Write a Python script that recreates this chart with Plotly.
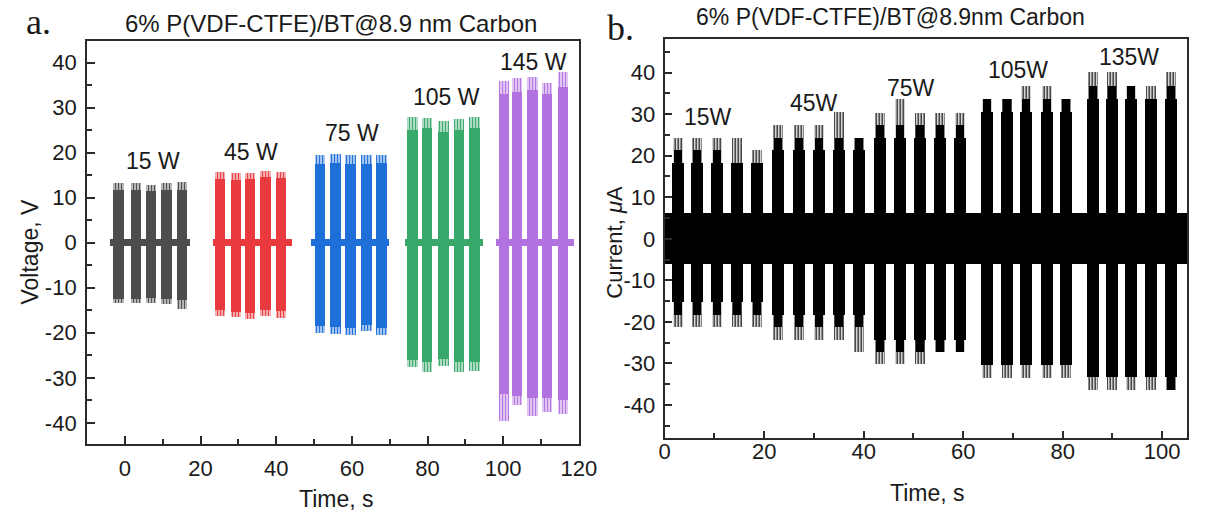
import plotly.graph_objects as go

# ---------------- Panel a: voltage bursts (V) ----------------
a_labels = ["15 W", "45 W", "75 W", "105 W", "145 W"]
a_label_x = [7.3, 33.3, 60.0, 85.0, 108.0]
a_label_y = [18.1, 20.2, 24.4, 32.4, 40.2]
a_colors = ["#4d4d4d", "#e93a3f", "#1f6fd9", "#38a86b", "#b272e0"]

a_t_15 = [-1.7, 3.0, 6.9, 11.0, 15.1]
a_t_45 = [25.1, 29.4, 33.1, 37.2, 41.3]
a_t_75 = [51.6, 55.7, 59.6, 63.8, 67.8]
a_t_105 = [76.0, 79.9, 84.2, 88.3, 92.5]
a_t_145 = [100.2, 103.7, 107.8, 111.6, 115.8]

a_top_15 = [11.8, 11.8, 11.5, 11.8, 11.8]
a_top_45 = [14.2, 14.0, 14.2, 14.5, 14.3]
a_top_75 = [17.5, 17.8, 17.5, 17.5, 17.6]
a_top_105 = [25.0, 25.5, 24.5, 25.0, 25.5]
a_top_145 = [33.0, 33.5, 34.0, 33.0, 34.5]

a_pk_top_15 = [13.3, 13.3, 12.8, 13.2, 13.5]
a_pk_top_45 = [15.6, 15.5, 15.5, 16.0, 15.8]
a_pk_top_75 = [19.5, 19.8, 19.5, 19.5, 19.5]
a_pk_top_105 = [28.0, 27.8, 27.0, 27.5, 28.0]
a_pk_top_145 = [36.0, 36.5, 36.8, 35.5, 38.0]

a_bot_15 = [-12.5, -12.5, -12.3, -12.5, -12.8]
a_bot_45 = [-15.0, -15.3, -15.5, -15.0, -15.2]
a_bot_75 = [-18.5, -18.8, -19.0, -18.3, -19.0]
a_bot_105 = [-26.0, -26.5, -25.8, -26.5, -26.5]
a_bot_145 = [-33.5, -34.0, -34.5, -34.5, -35.0]

a_pk_bot_15 = [-13.3, -13.3, -13.3, -13.5, -14.8]
a_pk_bot_45 = [-16.3, -16.5, -17.0, -16.3, -16.8]
a_pk_bot_75 = [-20.0, -20.3, -20.5, -19.5, -20.5]
a_pk_bot_105 = [-27.5, -28.8, -27.3, -28.8, -28.5]
a_pk_bot_145 = [-39.5, -36.0, -38.5, -37.5, -38.0]

a_base_start = [-3.9, 23.3, 49.2, 74.0, 98.1]
a_base_end = [17.3, 44.3, 69.7, 94.6, 118.6]
a_noise = 0.75

# ---------------- Panel b: current bursts (uA) ----------------
b_labels = ["15W", "45W", "75W", "105W", "135W"]
b_label_x = [8.8, 30.0, 49.5, 71.0, 93.4]
b_label_y = [29.4, 32.6, 36.2, 40.6, 43.8]

b_t_15 = [2.55, 6.5, 10.4, 14.5, 18.4]
b_t_45 = [22.8, 26.9, 30.9, 35.0, 38.9]
b_t_75 = [43.2, 47.3, 51.2, 55.3, 59.2]
b_t_105 = [64.8, 68.7, 72.6, 76.7, 80.6]
b_t_135 = [86.0, 89.9, 93.7, 97.7, 101.7]

b_hi_wide_15 = [18.2, 18.2, 18.2, 18.2, 18.2]
b_hi_narrow_15 = [21.2, 21.2, 21.2, 18.2, 18.2]
b_hi_spike_15 = [24.2, 24.2, 24.2, 24.2, 21.2]
b_lo_wide_15 = [-15.3, -15.3, -15.3, -15.3, -15.3]
b_lo_narrow_15 = [-18.3, -18.3, -18.3, -18.3, -18.3]
b_lo_spike_15 = [-21.3, -21.3, -21.3, -21.3, -21.3]

b_hi_wide_45 = [21.2, 21.2, 21.2, 21.2, 21.2]
b_hi_narrow_45 = [24.2, 24.2, 24.2, 24.2, 24.2]
b_hi_spike_45 = [27.3, 27.3, 27.3, 30.5, 24.2]
b_lo_wide_45 = [-18.3, -18.3, -18.3, -18.3, -18.3]
b_lo_narrow_45 = [-21.3, -21.3, -21.3, -21.3, -21.3]
b_lo_spike_45 = [-24.3, -24.3, -24.3, -24.3, -27.3]

b_hi_wide_75 = [24.2, 24.2, 24.2, 24.2, 24.2]
b_hi_narrow_75 = [27.3, 27.3, 27.3, 27.3, 27.3]
b_hi_spike_75 = [30.2, 33.5, 30.2, 30.2, 30.2]
b_lo_wide_75 = [-24.3, -24.3, -24.3, -24.3, -24.3]
b_lo_narrow_75 = [-27.3, -27.3, -27.3, -27.3, -27.3]
b_lo_spike_75 = [-30.3, -30.3, -30.3, -27.3, -27.3]

b_hi_wide_105 = [30.5, 30.5, 30.5, 30.5, 30.5]
b_hi_narrow_105 = [33.5, 33.5, 33.5, 33.5, 33.5]
b_hi_spike_105 = [33.5, 33.5, 36.6, 36.6, 33.5]
b_lo_wide_105 = [-30.5, -30.5, -30.5, -30.5, -30.5]
b_lo_narrow_105 = [-30.5, -30.5, -30.5, -30.5, -30.5]
b_lo_spike_105 = [-33.6, -33.6, -33.6, -33.6, -33.6]

b_hi_wide_135 = [33.5, 33.5, 33.5, 33.5, 33.5]
b_hi_narrow_135 = [36.6, 36.6, 36.6, 33.5, 36.6]
b_hi_spike_135 = [40.0, 40.0, 36.6, 36.6, 40.0]
b_lo_wide_135 = [-33.3, -33.3, -33.3, -33.3, -33.3]
b_lo_narrow_135 = [-33.3, -33.3, -33.3, -33.3, -36.5]
b_lo_spike_135 = [-36.5, -36.5, -36.5, -36.5, -36.5]

b_base_start = 0.0
b_base_end = 105.0
b_noise = 6.1

# tick labels
a_xticks = [0, 20, 40, 60, 80, 100, 120]
a_yticks = [-40, -30, -20, -10, 0, 10, 20, 30, 40]
b_xticks = [0, 20, 40, 60, 80, 100]
b_yticks = [-40, -30, -20, -10, 0, 10, 20, 30, 40]

# ---------------- figure ----------------
W, H = 1208, 515
FONT = "Arial, Liberation Sans, sans-serif"
SERIF = "Liberation Serif, Times New Roman, serif"
AXC = "#2b2b2b"


def px(x, y):
    return x / W, 1 - y / H


fig = go.Figure()


def add_bar(x, lo, hi, width, color, xa, ya, pattern=None):
    base = list(lo)
    height = [h - l for h, l in zip(hi, lo)]
    marker = dict(color=color, line=dict(width=0))
    if pattern is not None:
        marker["pattern"] = dict(shape="|", size=3, solidity=pattern, fillmode="replace")
    fig.add_trace(go.Bar(x=list(x), base=base, y=height, width=width,
                         marker=marker, xaxis=xa, yaxis=ya,
                         showlegend=False, hoverinfo="skip"))


# panel a
a_t = [a_t_15, a_t_45, a_t_75, a_t_105, a_t_145]
a_top = [a_top_15, a_top_45, a_top_75, a_top_105, a_top_145]
a_pk_top = [a_pk_top_15, a_pk_top_45, a_pk_top_75, a_pk_top_105, a_pk_top_145]
a_bot = [a_bot_15, a_bot_45, a_bot_75, a_bot_105, a_bot_145]
a_pk_bot = [a_pk_bot_15, a_pk_bot_45, a_pk_bot_75, a_pk_bot_105, a_pk_bot_145]
for i in range(5):
    c = a_colors[i]
    add_bar(a_t[i], a_pk_bot[i], a_pk_top[i], 2.8, c, "x", "y", pattern=0.6)
    add_bar(a_t[i], a_bot[i], a_top[i], 2.8, c, "x", "y")
    s, e = a_base_start[i], a_base_end[i]
    add_bar([(s + e) / 2], [-a_noise], [a_noise], e - s, c, "x", "y")

# panel b
b_t = [b_t_15, b_t_45, b_t_75, b_t_105, b_t_135]
b_hw = [b_hi_wide_15, b_hi_wide_45, b_hi_wide_75, b_hi_wide_105, b_hi_wide_135]
b_hn = [b_hi_narrow_15, b_hi_narrow_45, b_hi_narrow_75, b_hi_narrow_105, b_hi_narrow_135]
b_hs = [b_hi_spike_15, b_hi_spike_45, b_hi_spike_75, b_hi_spike_105, b_hi_spike_135]
b_lw = [b_lo_wide_15, b_lo_wide_45, b_lo_wide_75, b_lo_wide_105, b_lo_wide_135]
b_ln = [b_lo_narrow_15, b_lo_narrow_45, b_lo_narrow_75, b_lo_narrow_105, b_lo_narrow_135]
b_ls = [b_lo_spike_15, b_lo_spike_45, b_lo_spike_75, b_lo_spike_105, b_lo_spike_135]
for i in range(5):
    add_bar(b_t[i], b_ls[i], b_hs[i], 2.0, "black", "x2", "y2", pattern=0.45)
    add_bar(b_t[i], b_ln[i], b_hn[i], 1.6, "black", "x2", "y2")
    add_bar(b_t[i], b_lw[i], b_hw[i], 2.4, "black", "x2", "y2")
add_bar([(b_base_start + b_base_end) / 2], [-b_noise], [b_noise],
        b_base_end - b_base_start, "black", "x2", "y2")

tickfont = dict(family=FONT, size=22, color="#1a1a1a")


def axis(domain, rng, tvals, minor_dtick, standoff, ticklen=8):
    return dict(domain=domain, range=rng, tickmode="array", tickvals=tvals,
                ticktext=[str(v) for v in tvals], ticks="inside", ticklen=ticklen,
                tickwidth=2, tickcolor=AXC,
                minor=dict(ticks="inside", dtick=minor_dtick, tick0=0, ticklen=5,
                           tickwidth=1.5, tickcolor=AXC),
                showline=True, linewidth=2, linecolor=AXC, mirror=True,
                showgrid=False, zeroline=False, tickfont=tickfont,
                ticklabelstandoff=standoff, fixedrange=True)


ax_a_x = px(82.7, 0)[0], px(584.5, 0)[0]
ax_a_y = px(0, 444)[1], px(0, 41)[1]
ax_b_x = px(672, 0)[0], px(1205, 0)[0]
ax_b_y = px(0, 438.3)[1], px(0, 39.3)[1]

fig.update_layout(
    width=W, height=H, margin=dict(l=0, r=0, t=0, b=0),
    paper_bgcolor="white", plot_bgcolor="white",
    barmode="overlay", bargap=0, showlegend=False,
    xaxis=axis(list(ax_a_x), [-10, 120], a_xticks, 10, 4),
    yaxis=axis(list(ax_a_y), [-44.7, 44.8], a_yticks, 5, 4),
    xaxis2=axis(list(ax_b_x), [0, 105], b_xticks, 10, -8, ticklen=7),
    yaxis2=axis(list(ax_b_y), [-48, 48], b_yticks, 5, 3, ticklen=7),
)
fig.layout.xaxis2.anchor = "y2"
fig.layout.yaxis2.anchor = "x2"
fig.layout.xaxis.anchor = "y"
fig.layout.yaxis.anchor = "x"

ann = []
lab_font = dict(family=FONT, size=23, color="#1a1a1a")
for t, x, y in zip(a_labels, a_label_x, a_label_y):
    ann.append(dict(text=t, x=x, y=y, xref="x", yref="y", showarrow=False, font=lab_font))
for t, x, y in zip(b_labels, b_label_x, b_label_y):
    ann.append(dict(text=t, x=x, y=y, xref="x2", yref="y2", showarrow=False, font=lab_font))


def pann(text, x, y, size, family=FONT, angle=0):
    X, Y = px(x, y)
    ann.append(dict(text=text, x=X, y=Y, xref="paper", yref="paper", showarrow=False,
                    xanchor="center", yanchor="middle", textangle=angle,
                    font=dict(family=family, size=size, color="#1a1a1a")))


pann("6% P(VDF-CTFE)/BT@8.9 nm Carbon", 332, 23, 24)
pann("6% P(VDF-CTFE)/BT@8.9nm Carbon", 902, 17, 23)
pann("a.", 33, 22, 36, family=SERIF)
pann("b.", 627, 28, 36, family=SERIF)
pann("Voltage, V", 24, 252, 23, angle=-90)
pann("Current, <i>μ</i>A", 621, 242, 22, angle=-90)
pann("Time, s", 337, 499, 23)
pann("Time, s", 940, 493, 23)

fig.update_layout(annotations=ann)
fig.write_html("out.html")
